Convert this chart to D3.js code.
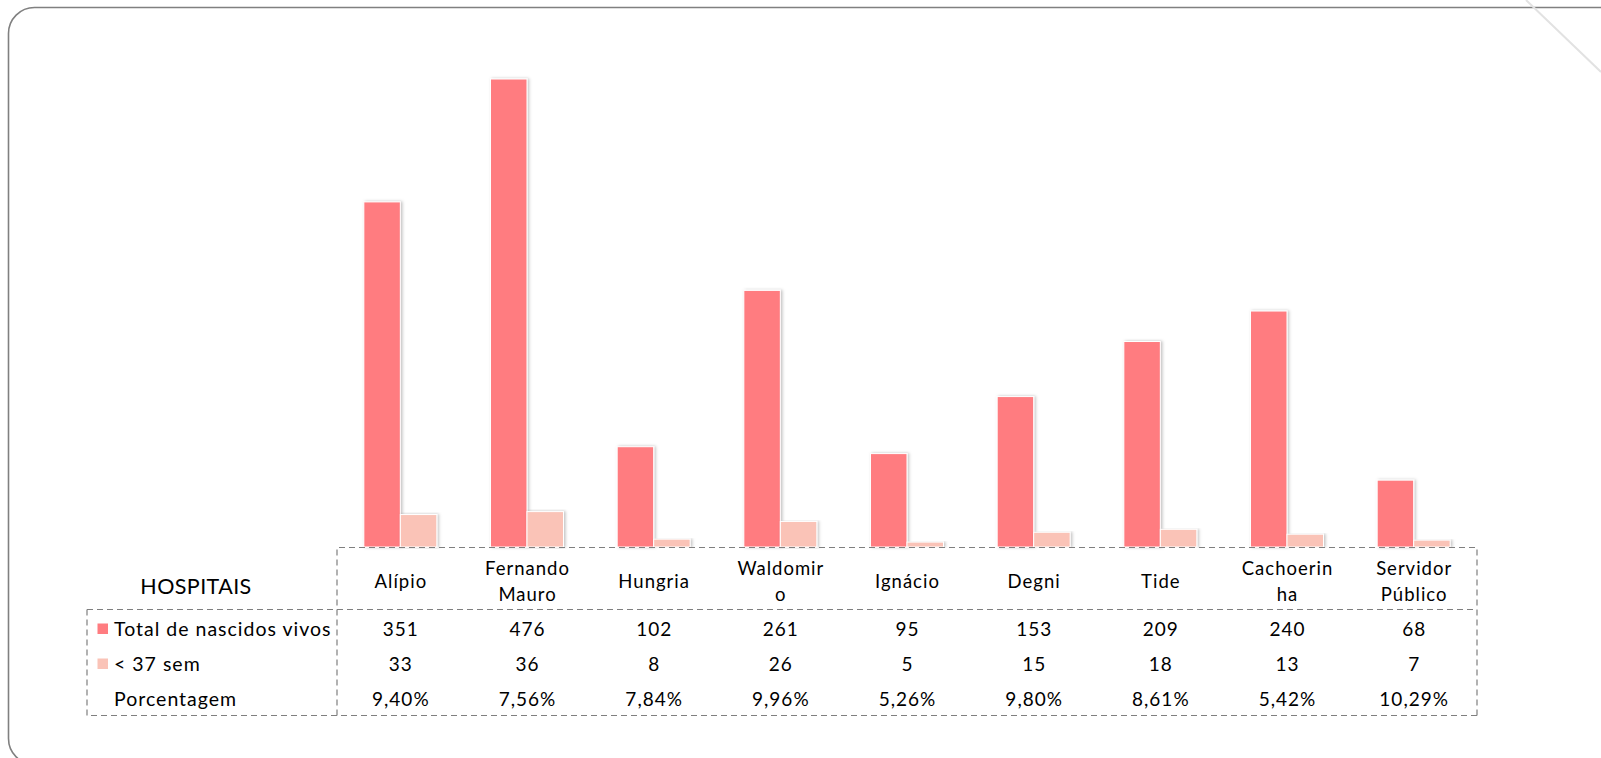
<!DOCTYPE html>
<html>
<head>
<meta charset="utf-8">
<script src="https://cdn.jsdelivr.net/npm/d3@7"></script>
<style>
  html, body { margin: 0; padding: 0; background: #fff; }
  svg { display: block; }
  text { font-family: Lato, "Open Sans", sans-serif; fill: #000; }
</style>
</head>
<body>
<svg id="chart" width="1601" height="758"></svg>
<script>
// ---- data ----
const categories = ["Alípio", "Fernando Mauro", "Hungria", "Waldomiro", "Ignácio", "Degni", "Tide", "Cachoerinha", "Servidor Público"];
const categoryLabels = [["Alípio"], ["Fernando", "Mauro"], ["Hungria"], ["Waldomir", "o"], ["Ignácio"], ["Degni"], ["Tide"], ["Cachoerin", "ha"], ["Servidor", "Público"]];
const seriesNames = ["Total de nascidos vivos", "< 37 sem"];
const totalNascidos = [351, 476, 102, 261, 95, 153, 209, 240, 68];
const menos37 = [33, 36, 8, 26, 5, 15, 18, 13, 7];
const porcentagem = ["9,40%", "7,56%", "7,84%", "9,96%", "5,26%", "9,80%", "8,61%", "5,42%", "10,29%"];
const tableTitle = "HOSPITAIS";
const pctLabel = "Porcentagem";
const colors = ["#FF7C80", "#FAC3B7"];

const svg = d3.select("#chart");

// drop shadow filter
const defs = svg.append("defs");
const f = defs.append("filter").attr("id", "shadow").attr("x", "-20%").attr("y", "-5%").attr("width", "140%").attr("height", "110%");
f.append("feDropShadow").attr("dx", 1.5).attr("dy", 0).attr("stdDeviation", 1.5).attr("flood-color", "#000").attr("flood-opacity", 0.25);

// outer frame
svg.append("rect")
  .attr("x", 8.5).attr("y", 7.5)
  .attr("width", 1640).attr("height", 757)
  .attr("rx", 26).attr("ry", 26)
  .attr("fill", "none").attr("stroke", "#808080").attr("stroke-width", 1.6);

// page-fold hint line
svg.append("line")
  .attr("x1", 1526).attr("y1", 0).attr("x2", 1601).attr("y2", 72)
  .attr("stroke", "#e2e2e2").attr("stroke-width", 2);

// ---- scales ----
const tableLeft = 337, tableRight = 1477, baseY = 547, topY = 55.4;
const pad = 0.4237;
const x = d3.scaleBand().domain(categories).range([tableLeft, tableRight]).paddingInner(pad).paddingOuter(pad / 2);
const xs = d3.scaleBand().domain(seriesNames).range([0, x.bandwidth()]);
const y = d3.scaleLinear().domain([0, 500]).range([baseY, topY]);

const series = [totalNascidos, menos37];

const gBars = svg.append("g");
seriesNames.forEach((name, si) => {
  gBars.append("g")
    .selectAll("rect")
    .data(categories.map((c, i) => ({ c, v: series[si][i] })))
    .join("rect")
    .attr("x", d => x(d.c) + xs(name))
    .attr("y", d => y(d.v))
    .attr("width", xs.bandwidth())
    .attr("height", d => baseY - y(d.v))
    .attr("fill", colors[si])
    .attr("stroke", "#fff")
    .attr("stroke-width", 1)
    .attr("filter", "url(#shadow)");
});

// ---- data table ----
const legendLeft = 87, rowSplit = 609.5, tableBottom = 715.5;
const rowY = [629, 664, 699];
const dash = "6,4";
const lineColor = "#7f7f7f";
const tbl = svg.append("g").attr("fill", "none").attr("stroke", lineColor).attr("stroke-width", 1.2).attr("stroke-dasharray", dash);
tbl.append("path").attr("d", `M${tableLeft},${tableBottom} V${baseY + 0.5} H${tableRight} V${tableBottom}`);
tbl.append("path").attr("d", `M${legendLeft},${rowSplit} H${tableRight}`);
tbl.append("path").attr("d", `M${legendLeft},${rowSplit} V${tableBottom} H${tableRight}`);

// category axis labels
const xAxis = d3.axisBottom(x).tickSize(0).tickFormat(() => "");
const ax = svg.append("g").attr("transform", `translate(0,${baseY})`).call(xAxis);
ax.select(".domain").remove();
ax.selectAll(".tick").each(function(d, i) {
  const lines = categoryLabels[i];
  const t = d3.select(this).append("text")
    .attr("text-anchor", "middle")
    .attr("font-size", 18.5)
    .style("letter-spacing", "1px");
  const centerY = 35;
  const lh = 26;
  lines.forEach((ln, k) => {
    t.append("tspan")
      .attr("x", 0.5)
      .attr("y", centerY + (k - (lines.length - 1) / 2) * lh)
      .attr("dy", "0.35em")
      .text(ln);
  });
});

svg.append("text").attr("x", 196).attr("y", 586).attr("dy", "0.35em")
  .attr("text-anchor", "middle").attr("font-size", 21.5).style("letter-spacing", "0.4px").text(tableTitle);

// legend rows
const rowNames = [seriesNames[0], seriesNames[1], pctLabel];
rowNames.forEach((n, r) => {
  if (r < 2) {
    svg.append("rect").attr("x", 97.5).attr("y", rowY[r] - 5.5).attr("width", 10.5).attr("height", 10.5)
      .attr("fill", colors[r]);
  }
  svg.append("text").attr("x", 114).attr("y", rowY[r]).attr("dy", "0.35em")
    .attr("font-size", 19.5).style("letter-spacing", "1px").text(n);
});

// values
const rowsVals = [totalNascidos.map(String), menos37.map(String), porcentagem];
rowsVals.forEach((vals, r) => {
  svg.append("g").selectAll("text").data(vals).join("text")
    .attr("x", (d, i) => x(categories[i]) + x.bandwidth() / 2 + 0.5)
    .attr("y", rowY[r]).attr("dy", "0.35em")
    .attr("text-anchor", "middle").attr("font-size", 19)
    .style("letter-spacing", "1px")
    .text(d => d);
});
</script>
</body>
</html>
